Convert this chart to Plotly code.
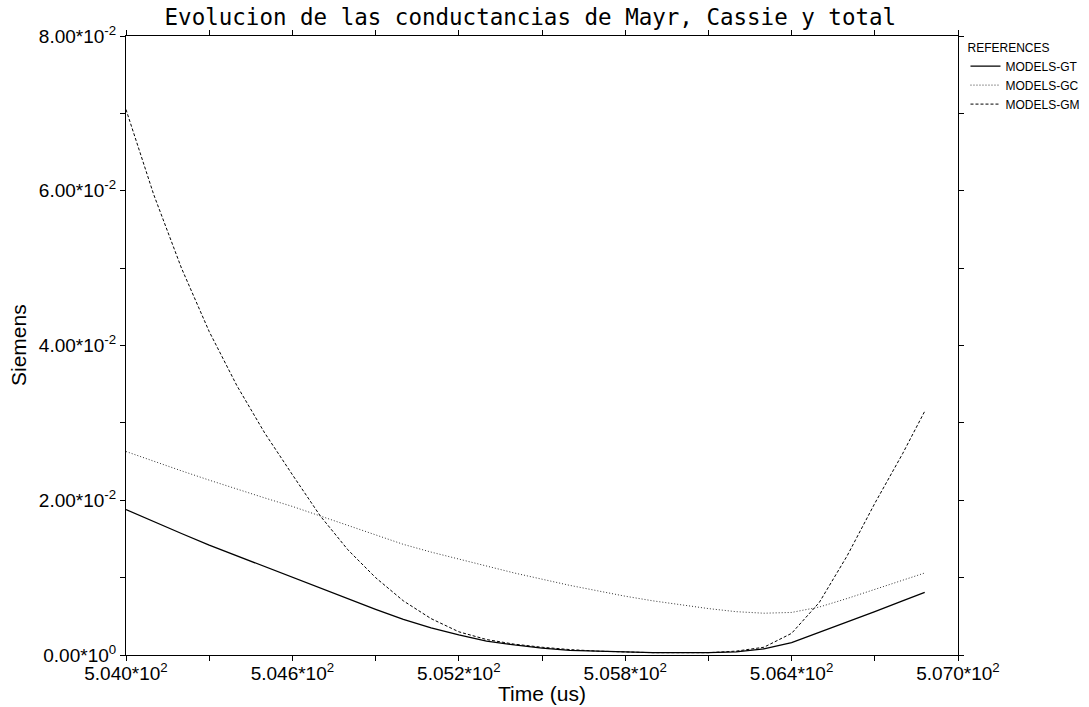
import plotly.graph_objects as go

# Time (us)
time_us = [504.0, 504.1, 504.2, 504.3, 504.4, 504.5, 504.6, 504.7, 504.8, 504.9,
           505.0, 505.1, 505.2, 505.3, 505.4, 505.5, 505.6, 505.7, 505.8, 505.9,
           506.0, 506.1, 506.2, 506.3, 506.4, 506.5, 506.6, 506.7, 506.8, 506.88]

# Conductances (Siemens)
models_gt = [0.0188, 0.0172, 0.0157, 0.0142, 0.0128, 0.0114, 0.0101, 0.0087, 0.0073, 0.0059,
             0.0046, 0.0035, 0.0026, 0.0018, 0.0013, 0.0009, 0.0006, 0.0005, 0.0004, 0.0003,
             0.0003, 0.0003, 0.0004, 0.0008, 0.0016, 0.0029, 0.0043, 0.0056, 0.0070, 0.0081]
models_gc = [0.0263, 0.0250, 0.0238, 0.0226, 0.0214, 0.0203, 0.0192, 0.0180, 0.0167, 0.0155,
             0.0143, 0.0133, 0.0124, 0.0115, 0.0106, 0.0098, 0.0090, 0.0083, 0.0076, 0.0070,
             0.0065, 0.0060, 0.0056, 0.0054, 0.0055, 0.0062, 0.0073, 0.0085, 0.0096, 0.0106]
models_gm = [0.0705, 0.0595, 0.0500, 0.0418, 0.0348, 0.0287, 0.0233, 0.0180, 0.0136, 0.0100,
             0.0070, 0.0047, 0.0030, 0.0020, 0.0014, 0.0010, 0.0007, 0.0005, 0.0004, 0.0003,
             0.0003, 0.0003, 0.0005, 0.0010, 0.0028, 0.0068, 0.0128, 0.0196, 0.0260, 0.0315]

# Axis ticks
x_tick_vals = [504.0, 504.3, 504.6, 504.9, 505.2, 505.5, 505.8, 506.1, 506.4, 506.7, 507.0]
x_tick_text = ["5.040*10<sup>2</sup>", "", "5.046*10<sup>2</sup>", "", "5.052*10<sup>2</sup>", "",
               "5.058*10<sup>2</sup>", "", "5.064*10<sup>2</sup>", "", "5.070*10<sup>2</sup>"]
y_tick_vals = [0.0, 0.01, 0.02, 0.03, 0.04, 0.05, 0.06, 0.07, 0.08]
y_tick_text = ["0.00*10<sup>0</sup>", "", "2.00*10<sup>-2</sup>", "", "4.00*10<sup>-2</sup>", "",
               "6.00*10<sup>-2</sup>", "", "8.00*10<sup>-2</sup>"]

W, H = 1089, 707
ML, MR, MT, MB = 126, 131, 36, 52

fig = go.Figure()
fig.add_trace(go.Scatter(x=time_us, y=models_gt, mode="lines", name="MODELS-GT",
                         line=dict(color="black", width=1.3)))
fig.add_trace(go.Scatter(x=time_us, y=models_gc, mode="lines", name="MODELS-GC",
                         line=dict(color="#333333", width=1, dash="1px,2px")))
fig.add_trace(go.Scatter(x=time_us, y=models_gm, mode="lines", name="MODELS-GM",
                         line=dict(color="black", width=1, dash="3px,2px")))

tick_font = dict(family="Liberation Sans, Arial, sans-serif", size=19, color="black")

fig.update_layout(
    width=W, height=H,
    margin=dict(l=ML, r=MR, t=MT, b=MB, autoexpand=False),
    paper_bgcolor="white", plot_bgcolor="white",
    title=dict(text="Evolucion de las conductancias de Mayr, Cassie y total",
               font=dict(family="DejaVu Sans Mono, monospace", size=22.5, color="black"),
               x=0.487, xanchor="center", y=0.976, yanchor="middle", xref="container", yref="container"),
    showlegend=True,
    legend=dict(
        title=dict(text="REFERENCES", font=dict(family="Liberation Sans, Arial", size=12, color="black")),
        font=dict(family="Liberation Sans, Arial", size=12, color="black"),
        x=1.009, xanchor="left", y=1.0, yanchor="top",
        bgcolor="rgba(0,0,0,0)", borderwidth=0, tracegroupgap=0,
    ),
    xaxis=dict(
        range=[504.0, 507.0], showgrid=False, zeroline=False,
        showline=True, linecolor="black", linewidth=1, mirror="ticks",
        ticks="outside", ticklen=5, tickcolor="black", tickwidth=1,
        tickmode="array", tickvals=x_tick_vals, ticktext=x_tick_text,
        tickfont=tick_font, ticklabelstandoff=-4,
    ),
    yaxis=dict(
        range=[0.0, 0.08], showgrid=False, zeroline=False,
        showline=True, linecolor="black", linewidth=1, mirror="ticks",
        ticks="outside", ticklen=5, tickcolor="black", tickwidth=1,
        tickmode="array", tickvals=y_tick_vals, ticktext=y_tick_text,
        tickfont=tick_font,
    ),
    annotations=[
        dict(text="Time (us)", xref="paper", yref="paper", x=0.5, y=-(693 - (H - MB)) / (H - MT - MB),
             xanchor="center", yanchor="middle", showarrow=False,
             font=dict(family="Liberation Sans, Arial", size=21, color="black")),
        dict(text="Siemens", xref="paper", yref="paper", x=-(ML - 18) / (W - ML - MR),
             y=(H - MB - 345) / (H - MT - MB), xanchor="center", yanchor="middle",
             textangle=-90, showarrow=False,
             font=dict(family="Liberation Sans, Arial", size=21, color="black")),
    ],
)

fig.write_html("out.html", config={"displayModeBar": False},
               post_script="document.body.style.margin='0';document.body.style.overflow='hidden';")
